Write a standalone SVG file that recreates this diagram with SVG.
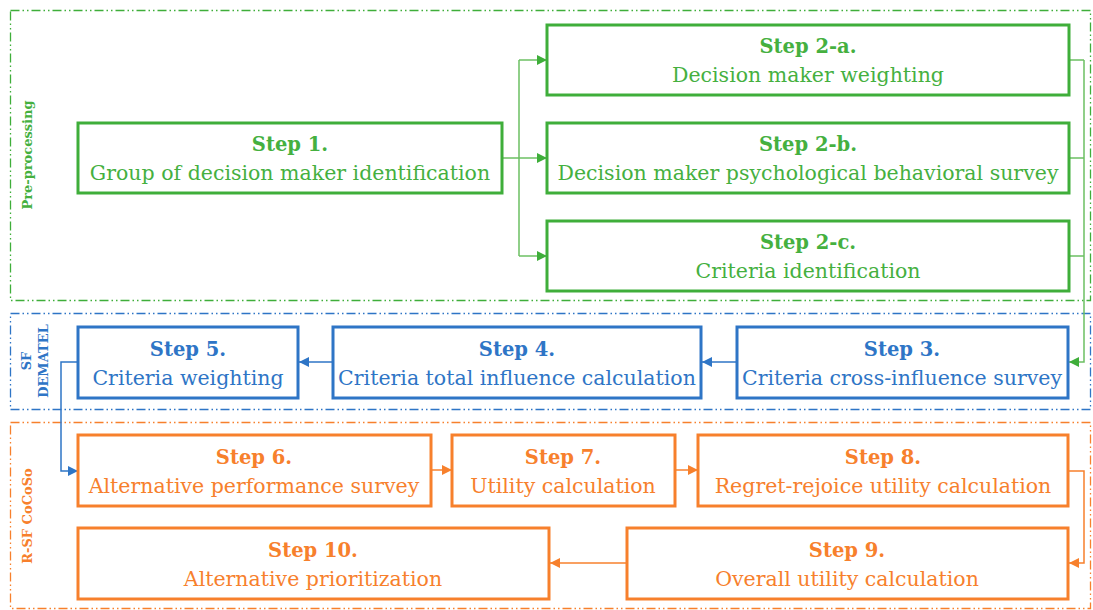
<svg xmlns="http://www.w3.org/2000/svg" width="1093" height="610" viewBox="0 0 1093 610">
<defs>
<marker id="ag" viewBox="0 0 10 10" refX="10" refY="5" markerWidth="10" markerHeight="10" markerUnits="userSpaceOnUse" orient="auto"><path d="M0,0 L10,5 L0,10 z" fill="#3FAE3A"/></marker>
<marker id="ab" viewBox="0 0 10 10" refX="10" refY="5" markerWidth="10" markerHeight="10" markerUnits="userSpaceOnUse" orient="auto"><path d="M0,0 L10,5 L0,10 z" fill="#2E75C6"/></marker>
<marker id="ao" viewBox="0 0 10 10" refX="10" refY="5" markerWidth="10" markerHeight="10" markerUnits="userSpaceOnUse" orient="auto"><path d="M0,0 L10,5 L0,10 z" fill="#F7802C"/></marker>
</defs>
<style>
text{font-family:"DejaVu Serif","Liberation Serif",serif;text-anchor:middle}
.t{font-size:19.5px;font-weight:bold}
.d{font-size:20.5px}
.g rect{fill:#fff;stroke:#3FAE3A;stroke-width:3}
.g text{fill:#45B03F}
.b rect{fill:#fff;stroke:#2E75C6;stroke-width:3}
.b text{fill:#2E75C6}
.o rect{fill:#fff;stroke:#F7802C;stroke-width:3}
.o text{fill:#F7802C}
.grp{fill:none;stroke-width:1.3;stroke-dasharray:9 3 1.5 3 1.5 3}
.lab{font-size:13px;font-weight:bold}
.cg{fill:none;stroke:#6CC063;stroke-width:1.5}
.cb{fill:none;stroke:#2E75C6;stroke-width:1.5}
.co{fill:none;stroke:#F7802C;stroke-width:1.5}
</style>
<g id="groups">
<rect class="grp" x="10.5" y="10.5" width="1080" height="290" stroke="#3FAE3A"/>
<rect class="grp" x="10.5" y="313.5" width="1080" height="96" stroke="#2E75C6"/>
<rect class="grp" x="10.5" y="422.5" width="1080" height="186" stroke="#F7802C"/>
<text class="lab" fill="#45B03F" transform="translate(32,155) rotate(-90)">Pre-processing</text>
<text class="lab" fill="#2E75C6" transform="translate(31,361) rotate(-90)">SF</text>
<text class="lab" fill="#2E75C6" transform="translate(48,361) rotate(-90)">DEMATEL</text>
<text class="lab" fill="#F7802C" transform="translate(32,516) rotate(-90)">R-SF CoCoSo</text>
</g>
<g id="connectors">
<path class="cg" d="M503,158 H519 M519,60 V256"/>
<line class="cg" x1="519" y1="60" x2="547" y2="60" marker-end="url(#ag)"/>
<line class="cg" x1="519" y1="158" x2="547" y2="158" marker-end="url(#ag)"/>
<line class="cg" x1="519" y1="256" x2="547" y2="256" marker-end="url(#ag)"/>
<path class="cg" d="M1069,60 H1084 M1069,158 H1084 M1069,256 H1084"/>
<path class="cg" d="M1084,60 V362 H1069" marker-end="url(#ag)"/>
<line class="cb" x1="737" y1="362" x2="702" y2="362" marker-end="url(#ab)"/>
<line class="cb" x1="333" y1="362" x2="299" y2="362" marker-end="url(#ab)"/>
<path class="cb" d="M77,362 H61 V471 H78" marker-end="url(#ab)"/>
<line class="co" x1="431" y1="470" x2="452" y2="470" marker-end="url(#ao)"/>
<line class="co" x1="675" y1="470" x2="698" y2="470" marker-end="url(#ao)"/>
<path class="co" d="M1068,471 H1084 V563 H1069" marker-end="url(#ao)"/>
<line class="co" x1="627" y1="563" x2="550" y2="563" marker-end="url(#ao)"/>
</g>
<g id="step1" class="g"><rect x="78" y="123" width="424" height="70"/><text class="t" x="290" y="151">Step 1.</text><text class="d" x="290" y="180">Group of decision maker identification</text></g>
<g id="step2a" class="g"><rect x="547" y="25" width="522" height="70"/><text class="t" x="808" y="53">Step 2-a.</text><text class="d" x="808" y="82">Decision maker weighting</text></g>
<g id="step2b" class="g"><rect x="547" y="123" width="522" height="70"/><text class="t" x="808" y="151">Step 2-b.</text><text class="d" x="808" y="180">Decision maker psychological behavioral survey</text></g>
<g id="step2c" class="g"><rect x="547" y="221" width="522" height="70"/><text class="t" x="808" y="249">Step 2-c.</text><text class="d" x="808" y="278">Criteria identification</text></g>
<g id="step3" class="b"><rect x="737" y="327" width="331" height="71"/><text class="t" x="902" y="356">Step 3.</text><text class="d" x="902" y="385">Criteria cross-influence survey</text></g>
<g id="step4" class="b"><rect x="333" y="327" width="368" height="71"/><text class="t" x="517" y="356">Step 4.</text><text class="d" x="517" y="385">Criteria total influence calculation</text></g>
<g id="step5" class="b"><rect x="78" y="327" width="220" height="71"/><text class="t" x="188" y="356">Step 5.</text><text class="d" x="188" y="385">Criteria weighting</text></g>
<g id="step6" class="o"><rect x="78" y="435" width="353" height="71"/><text class="t" x="254" y="464">Step 6.</text><text class="d" x="254" y="493">Alternative performance survey</text></g>
<g id="step7" class="o"><rect x="452" y="435" width="223" height="71"/><text class="t" x="563" y="464">Step 7.</text><text class="d" x="563" y="493">Utility calculation</text></g>
<g id="step8" class="o"><rect x="698" y="435" width="370" height="71"/><text class="t" x="883" y="464">Step 8.</text><text class="d" x="883" y="493">Regret-rejoice utility calculation</text></g>
<g id="step9" class="o"><rect x="627" y="528" width="441" height="71"/><text class="t" x="847" y="557">Step 9.</text><text class="d" x="847" y="586">Overall utility calculation</text></g>
<g id="step10" class="o"><rect x="78" y="528" width="471" height="71"/><text class="t" x="313" y="557">Step 10.</text><text class="d" x="313" y="586">Alternative prioritization</text></g>
</svg>
